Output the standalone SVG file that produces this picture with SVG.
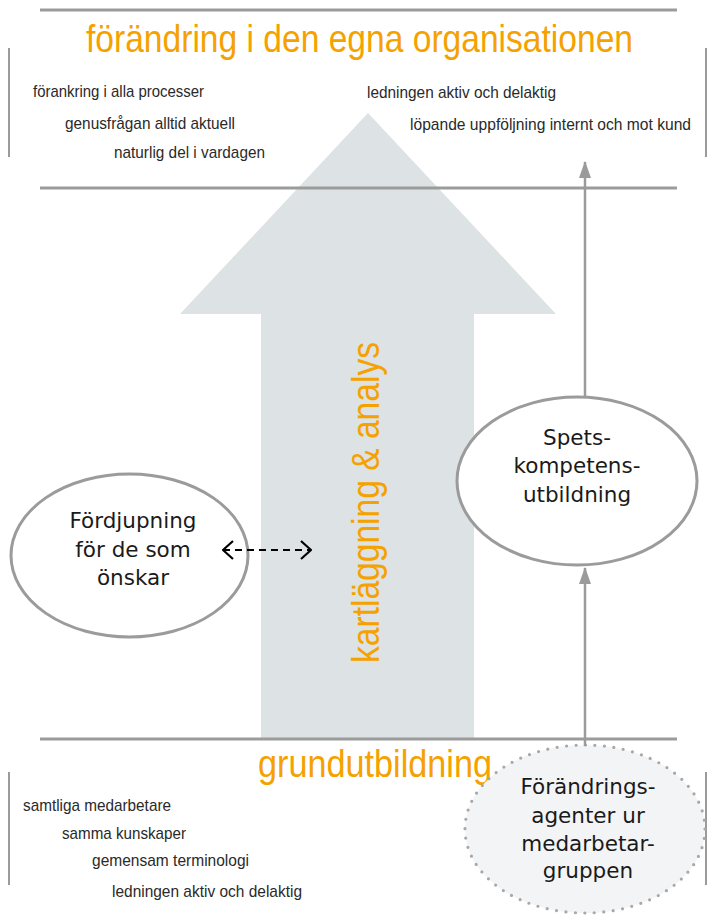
<svg xmlns="http://www.w3.org/2000/svg" width="709" height="915" viewBox="0 0 709 915">
<style>
.rule{stroke:#9b9b9b;stroke-width:3;fill:none}
.bar{stroke:#9b9b9b;stroke-width:2;fill:none}
.big{font-family:"Liberation Sans",Arial,sans-serif;font-size:39px;fill:#f5a100}
.small{font-family:"Liberation Sans",Arial,sans-serif;font-size:17px;fill:#2a2a2a}
.node{font-family:"DejaVu Sans",Verdana,sans-serif;font-size:21.5px;fill:#1a1a1a;text-anchor:middle}
.ell{fill:#fff;stroke:#9b9b9b;stroke-width:3}
.conn{stroke:#9b9b9b;stroke-width:2.5;fill:none}
</style>
<defs>
<marker id="grayhead" viewBox="0 0 17 12" refX="16" refY="6" markerWidth="17" markerHeight="12" markerUnits="userSpaceOnUse" orient="auto">
<path d="M0,0 L17,6 L0,12 Z" fill="#9b9b9b"/>
</marker>
<marker id="chev" viewBox="0 0 12 20" refX="11" refY="10" markerWidth="12" markerHeight="20" markerUnits="userSpaceOnUse" orient="auto-start-reverse">
<path d="M1,1 L11,10 L1,19" fill="none" stroke="#000" stroke-width="2.2"/>
</marker>
</defs>
<rect width="709" height="915" fill="#fff"/>

<g id="big-arrow">
<path d="M368,113 L556,314 L474,314 L474,739 L261,739 L261,314 L180,314 Z" fill="#dde2e4"/>
</g>

<g id="rules">
<line class="rule" x1="40" y1="10" x2="677" y2="10"/>
<line class="rule" x1="40" y1="188" x2="677" y2="188"/>
<line class="rule" x1="40" y1="739" x2="677" y2="739"/>
<line class="bar" x1="9" y1="48" x2="9" y2="157"/>
<line class="bar" x1="706" y1="48" x2="706" y2="157"/>
<line class="bar" x1="9" y1="772" x2="9" y2="885"/>
<line class="bar" x1="706" y1="772" x2="706" y2="885"/>
</g>

<g id="top-section">
<text class="big" x="86" y="52" textLength="547" lengthAdjust="spacingAndGlyphs">förändring i den egna organisationen</text>
<text class="small" x="33" y="97" textLength="171" lengthAdjust="spacingAndGlyphs">förankring i alla processer</text>
<text class="small" x="65" y="129" textLength="170" lengthAdjust="spacingAndGlyphs">genusfrågan alltid aktuell</text>
<text class="small" x="114" y="158" textLength="151" lengthAdjust="spacingAndGlyphs">naturlig del i vardagen</text>
<text class="small" x="367" y="98" textLength="189" lengthAdjust="spacingAndGlyphs">ledningen aktiv och delaktig</text>
<text class="small" x="410" y="130" textLength="281" lengthAdjust="spacingAndGlyphs">löpande uppföljning internt och mot kund</text>
</g>

<g id="vertical-label">
<text class="big" transform="translate(379,663) rotate(-90)" x="0" y="0" textLength="321" lengthAdjust="spacingAndGlyphs">kartläggning &amp; analys</text>
</g>

<g id="bottom-section">
<text class="big" x="258" y="777" textLength="234" lengthAdjust="spacingAndGlyphs">grundutbildning</text>
<text class="small" x="23" y="811" textLength="148" lengthAdjust="spacingAndGlyphs">samtliga medarbetare</text>
<text class="small" x="62" y="839" textLength="124" lengthAdjust="spacingAndGlyphs">samma kunskaper</text>
<text class="small" x="92" y="866" textLength="157" lengthAdjust="spacingAndGlyphs">gemensam terminologi</text>
<text class="small" x="112" y="897" textLength="190" lengthAdjust="spacingAndGlyphs">ledningen aktiv och delaktig</text>
</g>

<g id="fordjupning">
<ellipse class="ell" cx="129.5" cy="555.5" rx="118.5" ry="81.5"/>
<text class="node" x="133" y="528">Fördjupning</text>
<text class="node" x="133" y="557">för de som</text>
<text class="node" x="133" y="585">önskar</text>
</g>

<g id="spetskompetens">
<ellipse class="ell" cx="577" cy="481" rx="120" ry="84"/>
<text class="node" x="577" y="445">Spets-</text>
<text class="node" x="577" y="473">kompetens-</text>
<text class="node" x="577" y="502">utbildning</text>
</g>

<g id="forandringsagenter">
<ellipse cx="585" cy="829" rx="120" ry="84" fill="#f3f4f6" stroke="#a8a8a8" stroke-width="3.2" stroke-linecap="round" stroke-dasharray="0,9.5"/>
<text class="node" x="588" y="794">Förändrings-</text>
<text class="node" x="588" y="823">agenter ur</text>
<text class="node" x="588" y="851">medarbetar-</text>
<text class="node" x="588" y="878">gruppen</text>
</g>

<g id="connectors">
<line class="conn" x1="585" y1="396" x2="585" y2="162" marker-end="url(#grayhead)"/>
<line class="conn" x1="585" y1="746" x2="585" y2="568" marker-end="url(#grayhead)"/>
<line x1="223" y1="550" x2="311" y2="550" stroke="#000" stroke-width="2.2" stroke-dasharray="7,5" marker-start="url(#chev)" marker-end="url(#chev)"/>
</g>
</svg>
